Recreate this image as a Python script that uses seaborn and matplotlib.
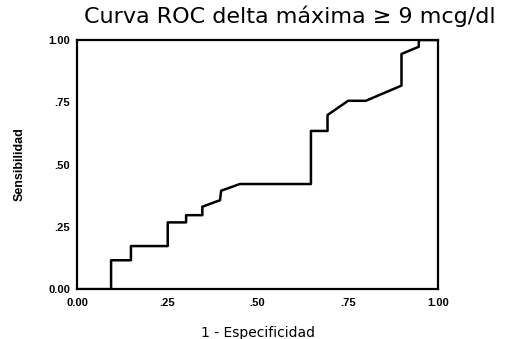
import numpy as np
import pandas as pd
import matplotlib
matplotlib.use("Agg")
import matplotlib.pyplot as plt
import seaborn as sns

# --- Data ---
fpr = [0.0, 0.094, 0.094, 0.149, 0.149, 0.251, 0.251, 0.302, 0.302, 0.347, 0.347,
       0.396, 0.399, 0.451, 0.648, 0.648, 0.694, 0.694, 0.751, 0.800, 0.899, 0.899,
       0.947, 0.947, 1.0]
tpr = [0.0, 0.0, 0.116, 0.116, 0.173, 0.173, 0.268, 0.268, 0.297, 0.297, 0.331,
       0.357, 0.395, 0.422, 0.422, 0.635, 0.635, 0.699, 0.756, 0.756, 0.817, 0.944,
       0.973, 1.0, 1.0]
tick_vals = [0.0, 0.25, 0.5, 0.75, 1.0]
tick_labels = ["0.00", ".25", ".50", ".75", "1.00"]

df = pd.DataFrame({"fpr": fpr, "tpr": tpr})

# --- Style ---
sns.set_style("white", {"text.color": "black", "axes.labelcolor": "black",
                        "xtick.color": "black", "ytick.color": "black"})
plt.rcParams["font.family"] = ["Liberation Sans", "DejaVu Sans"]

fig = plt.figure(figsize=(5.11, 3.39), dpi=100)
ax = fig.add_axes([0.151, 0.147, 0.706, 0.735])

sns.lineplot(data=df, x="fpr", y="tpr", sort=False, estimator=None,
             color="black", linewidth=1.8, ax=ax)

ax.set_xlim(0, 1)
ax.set_ylim(0, 1)
ax.set_xticks(tick_vals)
ax.set_xticklabels(tick_labels, fontsize=8, fontweight="bold")
ax.set_yticks(tick_vals)
ax.set_yticklabels(tick_labels, fontsize=8, fontweight="bold")
ax.tick_params(axis="both", direction="out", length=3, width=1.2, color="black",
               labelcolor="black", pad=3)
ax.tick_params(axis="y", pad=2)
for s in ax.spines.values():
    s.set_color("black")
    s.set_linewidth(1.6)

ax.set_xlabel("1 - Especificidad", fontsize=10, labelpad=13, color="black",
              family=["DejaVu Sans"])
ax.set_ylabel("Sensibilidad", fontsize=9, fontweight="bold", labelpad=16, color="black")

fig.text(0.568, 0.953, "Curva ROC delta máxima \u2265 9 mcg/dl", fontsize=16,
         ha="center", va="center", color="black", family=["DejaVu Sans"])

fig.savefig("out.png", dpi=100)
